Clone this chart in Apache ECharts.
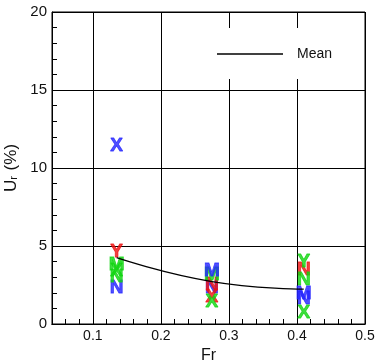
<!DOCTYPE html>
<html>
<head>
<meta charset="utf-8">
<script src="https://cdn.jsdelivr.net/npm/echarts@6/dist/echarts.min.js"></script>
<style>html,body{margin:0;padding:0;background:#fff}#c{width:379px;height:363px}</style>
</head>
<body>
<div id="c"></div>
<script>
var xTickLabels = [0.1, 0.2, 0.3, 0.4, 0.5];
var yTickLabels = [0, 5, 10, 15, 20];
var fr = [0.135, 0.275, 0.41];
var meanValues = [4.25, 2.72, 2.24];

var blueX  = [[0.135, 11.4]];
var blueN  = [[0.135, 2.3], [0.275, 2.3], [0.41, 1.6]];
var blueM  = [[0.275, 3.4], [0.41, 1.95]];
var redY   = [[0.135, 4.6]];
var redN   = [[0.275, 2.5], [0.41, 3.5]];
var redX   = [[0.275, 1.75]];
var greenN = [[0.135, 3.0], [0.41, 2.85]];
var greenX = [[0.135, 3.4], [0.275, 1.4], [0.41, 0.75]];
var greenM = [[0.135, 3.8], [0.275, 3.15]];
var greenY = [[0.41, 4.0]];

var FONT = '"Liberation Sans", Arial, sans-serif';

function letterSeries(data, letter, color) {
  return {
    type: 'scatter',
    xAxisIndex: 0,
    data: data,
    symbol: 'circle',
    symbolSize: 1,
    itemStyle: { color: 'rgba(0,0,0,0)' },
    silent: true,
    label: {
      show: true,
      position: 'inside',
      formatter: letter,
      color: color,
      fontSize: 19,
      fontWeight: 'bold',
      fontFamily: FONT,
      textBorderColor: color,
      textBorderWidth: 0.8
    },
    z: 5
  };
}

var BLUE = '#2424ff', RED = '#ee1010', GREEN = '#10d410';

var chart = echarts.init(document.getElementById('c'), null, { renderer: 'canvas' });
chart.setOption({
  animation: false,
  backgroundColor: '#ffffff',
  grid: { left: 52, top: 12, right: 14, bottom: 39, show: true, borderColor: '#000', borderWidth: 1,
    backgroundColor: 'transparent', containLabel: false, outerBoundsMode: 'none' },
  legend: {
    data: [{ name: 'Mean', icon: 'rect' }],
    left: 212, top: 28,
    padding: [19, 13, 18, 5],
    backgroundColor: '#ffffff',
    itemWidth: 66, itemHeight: 1.3,
    itemStyle: { color: '#000' },
    textStyle: { fontFamily: FONT, fontSize: 14, color: '#111', padding: [0, 0, 0, 9], lineHeight: 7 },
    z: 10
  },
  xAxis: [{
    type: 'value',
    min: 0.04, max: 0.5,
    name: 'Fr', nameLocation: 'middle', nameGap: 22,
    nameTextStyle: { fontFamily: FONT, fontSize: 16, color: '#111' },
    axisLine: { show: true, lineStyle: { color: '#000', width: 1 } },
    axisTick: { show: false, customValues: xTickLabels },
    axisLabel: { customValues: xTickLabels, fontFamily: FONT, fontSize: 14, color: '#111', margin: 5 },
    splitLine: { show: true, lineStyle: { color: '#000', width: 1 } }
  }, {
    type: 'value',
    min: 0.04, max: 0.5, interval: 0.02,
    position: 'bottom',
    axisLine: { show: true, lineStyle: { color: '#000', width: 1 } },
    axisTick: { show: true, inside: true, length: 5, lineStyle: { color: '#000' } },
    axisLabel: { show: false },
    splitLine: { show: false }
  }],
  yAxis: {
    type: 'value',
    min: 0, max: 20, interval: 5,
    name: 'U{s|r} (%)', nameLocation: 'middle', nameGap: 28, nameRotate: 90,
    nameTextStyle: { fontFamily: FONT, fontSize: 17, color: '#111',
      rich: { s: { fontFamily: FONT, fontSize: 11, color: '#111', verticalAlign: 'bottom', padding: [0, 1, 0, 0] } } },
    axisLine: { show: true, lineStyle: { color: '#000', width: 1 } },
    axisTick: { show: false },
    minorTick: { show: true, splitNumber: 5, length: -5, lineStyle: { color: '#000' } },
    axisLabel: { fontFamily: FONT, fontSize: 15, color: '#111', margin: 5,
      customValues: yTickLabels },
    splitLine: { show: true, lineStyle: { color: '#000', width: 1 } }
  },
  series: [
    {
      name: 'Mean', type: 'line', xAxisIndex: 0,
      data: fr.map(function (f, i) { return [f, meanValues[i]]; }),
      smooth: 0.5, symbol: 'none', showSymbol: false,
      lineStyle: { color: '#000', width: 1.3 },
      itemStyle: { color: '#000' },
      z: 6
    },
    letterSeries(blueX, 'X', BLUE),
    letterSeries(blueN, 'N', BLUE),
    letterSeries(redY, 'Y', RED),
    letterSeries(redN, 'N', RED),
    letterSeries(redX, 'X', RED),
    letterSeries(greenN, 'N', GREEN),
    letterSeries(greenX, 'X', GREEN),
    letterSeries(greenM, 'M', GREEN),
    letterSeries(greenY, 'Y', GREEN),
    letterSeries(blueM, 'M', BLUE)
  ]
});
</script>
</body>
</html>
